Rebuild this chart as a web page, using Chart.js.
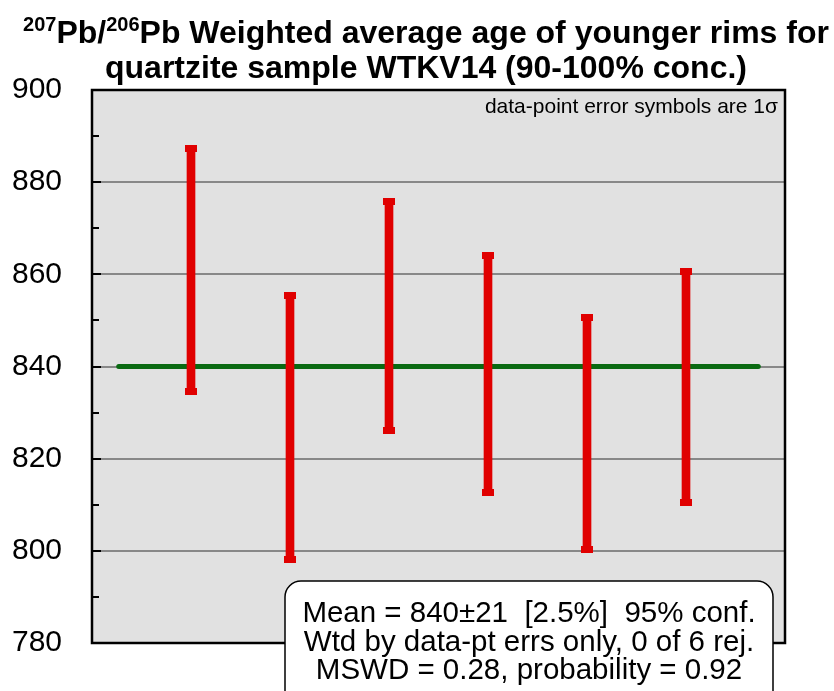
<!DOCTYPE html>
<html>
<head>
<meta charset="utf-8">
<script src="https://cdn.jsdelivr.net/npm/chart.js@4"></script>
<style>
  html, body { margin: 0; padding: 0; background: #fff; }
  #wrap { width: 834px; height: 691px; }
</style>
</head>
<body>
<div id="wrap"><canvas id="ageChart" width="834" height="691"></canvas></div>
<script>
// spot positions along the x axis (1..6)
const spotIndex = [1, 2, 3, 4, 5, 6];
// 1 sigma error limits for each spot (Ma)
const ageLow  = [834.5, 798.2, 826.2, 812.6, 800.3, 810.4];
const ageHigh = [887.4, 855.3, 875.8, 864.0, 850.7, 860.6];
// weighted mean and the span its line is drawn over
const meanAge = 840;
const meanSpan = [0.27, 6.73];
// y axis
const yMin = 780, yMax = 900, yMinorStep = 10, yMajorStep = 20;
// text
const titleLines = [
  [['207', true], ['Pb/', false], ['206', true], ['Pb Weighted average age of younger rims for', false]],
  [['quartzite sample WTKV14 (90-100% conc.)', false]]
];
const noteText = 'data-point error symbols are 1\u03c3';
const boxLines = [
  'Mean = 840\u00b121  [2.5%]  95% conf.',
  'Wtd by data-pt errs only, 0 of 6 rej.',
  'MSWD = 0.28, probability = 0.92'
];

const FONT = '"Liberation Sans", Arial, sans-serif';
const RED = '#e00000';
const GREEN = '#0a6a12';

// cap symbol for the error bars
const cap = document.createElement('canvas');
cap.width = 12; cap.height = 7;
(function () {
  const c = cap.getContext('2d');
  c.fillStyle = RED;
  c.fillRect(0, 0, 12, 7);
})();

const barData = spotIndex.map((x, i) => ({ x: x, y: [ageLow[i], ageHigh[i]] }));
const capData = [];
spotIndex.forEach((x, i) => {
  capData.push({ x: x, y: ageHigh[i] });
  capData.push({ x: x, y: ageLow[i] });
});
const meanData = meanSpan.map(x => ({ x: x, y: meanAge }));

const decorPlugin = {
  id: 'decor',
  beforeDraw(chart) {
    const { ctx, chartArea: a } = chart;
    ctx.save();
    ctx.fillStyle = '#e1e1e1';
    ctx.fillRect(a.left, a.top, a.right - a.left, a.bottom - a.top);
    ctx.restore();
  },
  afterDraw(chart) {
    const { ctx, chartArea: a } = chart;
    const y = chart.scales.y;
    ctx.save();

    // frame
    ctx.strokeStyle = '#000';
    ctx.lineWidth = 2.5;
    ctx.strokeRect(a.left, a.top, a.right - a.left, a.bottom - a.top);

    // inward tick marks
    ctx.lineWidth = 2;
    for (let v = yMin + yMinorStep; v < yMax; v += yMinorStep) {
      const py = Math.round(y.getPixelForValue(v));
      const len = (v % yMajorStep === 0) ? 9 : 7;
      ctx.beginPath();
      ctx.moveTo(a.left, py);
      ctx.lineTo(a.left + len, py);
      ctx.stroke();
    }

    // note at top right
    ctx.fillStyle = '#000';
    ctx.font = '21px ' + FONT;
    ctx.textAlign = 'right';
    ctx.textBaseline = 'middle';
    ctx.fillText(noteText, a.right - 7, a.top + 17);

    // title with superscripts
    const big = 'bold 32px ' + FONT, small = 'bold 20px ' + FONT;
    const baselines = [43, 78];
    ctx.textBaseline = 'alphabetic';
    ctx.textAlign = 'left';
    titleLines.forEach((parts, li) => {
      let w = 0;
      parts.forEach(([t, sup]) => { ctx.font = sup ? small : big; w += ctx.measureText(t).width; });
      let x = 426 - w / 2;
      parts.forEach(([t, sup]) => {
        ctx.font = sup ? small : big;
        ctx.fillText(t, x, baselines[li] - (sup ? 12 : 0));
        x += ctx.measureText(t).width;
      });
    });

    // result box
    const bx = 285, by = 581, bw = 488, bh = 140, r = 16;
    ctx.beginPath();
    ctx.roundRect(bx, by, bw, bh, r);
    ctx.fillStyle = '#fff';
    ctx.fill();
    ctx.lineWidth = 1.5;
    ctx.strokeStyle = '#000';
    ctx.stroke();
    ctx.fillStyle = '#000';
    ctx.font = '29.5px ' + FONT;
    ctx.textAlign = 'center';
    ctx.textBaseline = 'middle';
    boxLines.forEach((t, i) => ctx.fillText(t, bx + bw / 2, 614 + i * 28.5));

    ctx.restore();
  }
};

new Chart(document.getElementById('ageChart'), {
  type: 'bar',
  data: {
    datasets: [
      {
        type: 'line',
        data: meanData,
        borderColor: GREEN,
        borderWidth: 5,
        pointRadius: 0,
        borderCapStyle: 'round',
        order: 3
      },
      {
        type: 'bar',
        data: barData,
        backgroundColor: RED,
        borderWidth: 0,
        barThickness: 8,
        order: 2
      },
      {
        type: 'scatter',
        data: capData,
        pointStyle: cap,
        order: 1
      }
    ]
  },
  options: {
    responsive: false,
    animation: false,
    events: [],
    layout: { padding: { top: 90, right: 49, bottom: 48, left: 0 } },
    plugins: {
      legend: { display: false },
      title: { display: false },
      tooltip: { enabled: false }
    },
    scales: {
      x: {
        type: 'linear',
        min: 0,
        max: 7,
        offset: false,
        display: false
      },
      y: {
        min: yMin,
        max: yMax,
        afterFit(scale) { scale.width = 92; },
        border: { display: false },
        grid: {
          drawTicks: false,
          lineWidth: 2,
          color: c => {
            const v = c.tick && c.tick.value;
            return (v % yMajorStep === 0 && v !== yMin && v !== yMax) ? '#888888' : 'rgba(0,0,0,0)';
          }
        },
        ticks: {
          stepSize: yMinorStep,
          padding: 30,
          color: '#000',
          font: { family: FONT, size: 30 },
          callback: v => (v % yMajorStep === 0 ? v : '')
        }
      }
    }
  },
  plugins: [decorPlugin]
});
</script>
</body>
</html>
